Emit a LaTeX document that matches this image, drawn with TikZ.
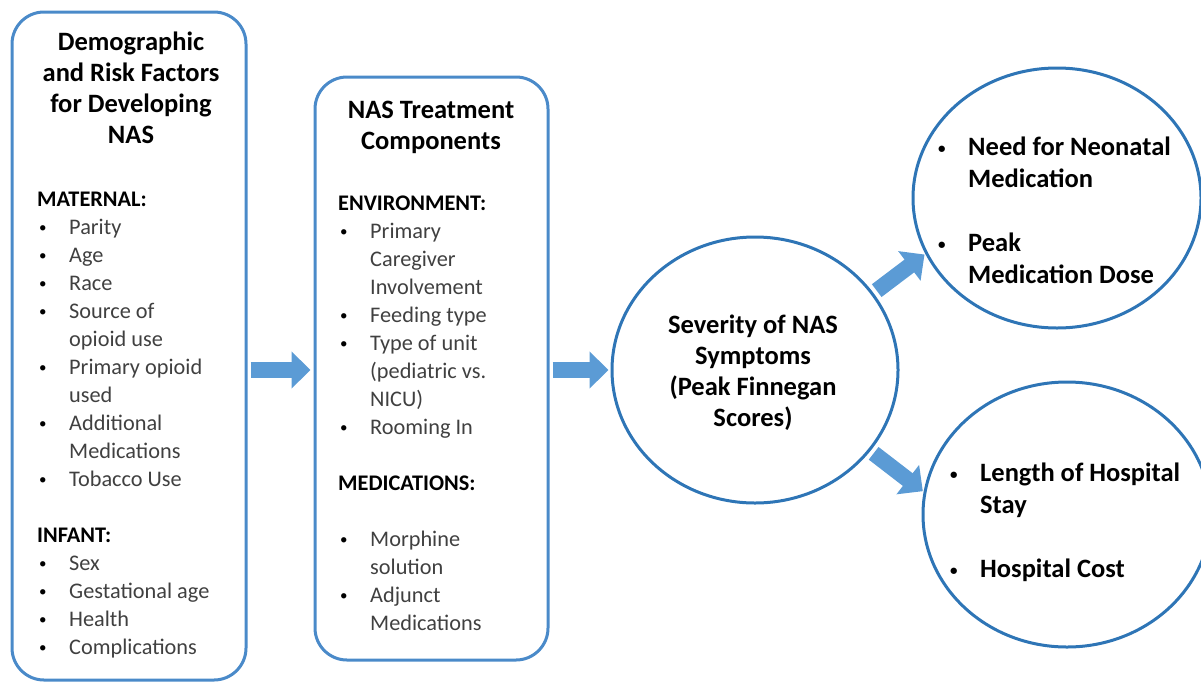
\documentclass[tikz,border=0pt]{standalone}
\usepackage{fontspec}
\setmainfont{Carlito}
\usetikzlibrary{arrows.meta,shapes.geometric}
\definecolor{nasblue}{HTML}{2E75B6}
\definecolor{boxblue}{HTML}{4A8AC9}
\definecolor{arrowblue}{HTML}{5B9BD5}
\definecolor{itemgray}{HTML}{404040}
\tikzstyle{panel}=[draw=boxblue,line width=3pt,rounded corners=32pt,inner sep=0pt]
\tikzstyle{oval}=[draw=nasblue,line width=3pt,ellipse,inner sep=0pt]
\tikzstyle{head}=[font=\bfseries\fontsize{26.5}{31}\selectfont,inner sep=0pt,anchor=base]
\tikzstyle{items}=[font=\fontsize{22.3}{28}\selectfont,text=itemgray,inner sep=0pt,anchor=base west]
\tikzstyle{outcome}=[font=\bfseries\fontsize{26.5}{32}\selectfont,inner sep=0pt,anchor=base west]
\tikzstyle{fat}=[draw=arrowblue,line width=16pt,-{Triangle[length=19pt,width=36pt]}]
\newcommand{\nasdot}{\raisebox{1.5pt}{\fontsize{15}{15}\selectfont\textcolor{black}{\textbullet}}}
\newcommand{\bul}{\makebox[32pt][l]{\hspace{2pt}\nasdot}}
\newcommand{\obul}{\makebox[30pt][l]{\nasdot}}

\begin{document}
\begin{tikzpicture}[x=1pt,y=-1pt]
  \useasboundingbox (0,0) rectangle (1201,683);
  % frames
  \node[panel,minimum width=234pt,minimum height=668pt] (risk) at (129,346) {};
  \node[panel,minimum width=233pt,minimum height=583pt] (treat) at (431.5,368.5) {};
  \node[oval,minimum width=286pt,minimum height=266pt] (sev) at (755,370) {};
  \node[oval,minimum width=288pt,minimum height=260pt] (need) at (1057,198) {};
  \node[oval,minimum width=288pt,minimum height=265pt] (cost) at (1067,514.5) {};

  % left panel
  \node[head] (riskhead) at (131,50) {\begin{tabular}[t]{@{}c@{}}
    Demographic\\and Risk Factors\\for Developing\\NAS\end{tabular}};
  \node[items] (risklist) at (37,206) {\begin{tabular}[t]{@{}l@{}l@{}}
    \multicolumn{2}{@{}l@{}}{\textcolor{black}{\bfseries MATERNAL:}}\\
    \bul & Parity\\
    \bul & Age\\
    \bul & Race\\
    \bul & Source of\\
        & opioid use\\
    \bul & Primary opioid\\
        & used\\
    \bul & Additional\\
        & Medications\\
    \bul & Tobacco Use\\
    \\
    \multicolumn{2}{@{}l@{}}{\textcolor{black}{\bfseries INFANT:}}\\
    \bul & Sex\\
    \bul & Gestational age\\
    \bul & Health\\
    \bul & Complications
  \end{tabular}};

  % middle panel
  \node[head] (treathead) at (431,118) {\begin{tabular}[t]{@{}c@{}}
    NAS Treatment\\Components\end{tabular}};
  \node[items] (treatlist) at (338,210) {\begin{tabular}[t]{@{}l@{}l@{}}
    \multicolumn{2}{@{}l@{}}{\textcolor{black}{\bfseries ENVIRONMENT:}}\\
    \bul & Primary\\
        & Caregiver\\
        & Involvement\\
    \bul & Feeding type\\
    \bul & Type of unit\\
        & (pediatric vs.\\
        & NICU)\\
    \bul & Rooming In\\
    \\
    \multicolumn{2}{@{}l@{}}{\textcolor{black}{\bfseries MEDICATIONS:}}\\
    \\
    \bul & Morphine\\
        & solution\\
    \bul & Adjunct\\
        & Medications
  \end{tabular}};

  % severity and outcomes
  \node[head] (sevtext) at (753,333) {\begin{tabular}[t]{@{}c@{}}
    Severity of NAS\\Symptoms\\(Peak Finnegan\\Scores)\end{tabular}};
  \node[outcome] (needtext) at (938,155) {\begin{tabular}[t]{@{}l@{}l@{}}
    \obul & Need for Neonatal\\
         & Medication\\
    \\
    \obul & Peak\\
         & Medication Dose
  \end{tabular}};
  \node[outcome] (costtext) at (950,481) {\begin{tabular}[t]{@{}l@{}l@{}}
    \obul & Length of Hospital\\
         & Stay\\
    \\
    \obul & Hospital Cost
  \end{tabular}};

  % arrows
  \draw[fat,shorten <=3pt,shorten >=3pt] (risk.east |- sev) -- (treat.west |- sev);
  \draw[fat,shorten <=3pt,shorten >=2pt] (treat.east |- sev) -- (sev.west);
  \draw[fat,shorten <=4pt,shorten >=1pt] (sev.33) -- (need.203);
  \draw[fat,shorten <=4pt,shorten >=1pt] (sev.-35) -- (cost.171);
\end{tikzpicture}
\end{document}
